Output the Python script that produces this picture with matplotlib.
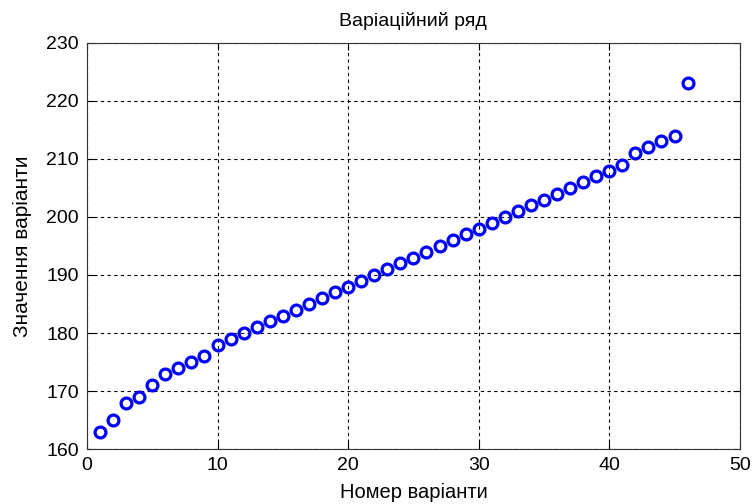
import matplotlib
matplotlib.use("Agg")
import matplotlib.pyplot as plt

# variation series (sorted sample values)
nums = list(range(1, 47))
values = [163, 165, 168, 169, 171, 173, 174, 175, 176, 178,
          179, 180, 181, 182, 183, 184, 185, 186, 187, 188,
          189, 190, 191, 192, 193, 194, 195, 196, 197, 198,
          199, 200, 201, 202, 203, 204, 205, 206, 207, 208,
          209, 211, 212, 213, 214, 223]

plt.rcParams['font.family'] = ['Liberation Sans', 'DejaVu Sans']

fig = plt.figure(figsize=(7.53, 5.04), dpi=100)
ax = fig.add_axes([0.1155, 0.109, 0.867, 0.806])

ax.plot(nums, values, 'o', color='blue', markerfacecolor='none',
        markersize=7.8, markeredgewidth=2.3)

ax.set_xlim(0, 50)
ax.set_ylim(160, 230)
ax.set_xticks(range(0, 51, 10))
ax.set_yticks(range(160, 231, 10))
ax.grid(True, color='black', linestyle=(0, (3, 3)), linewidth=0.8)
ax.tick_params(direction='in', top=True, right=True, labelsize=14, length=5, pad=6)
for s in ax.spines.values():
    s.set_color('#333333')

ax.set_title('Варіаційний ряд', fontsize=14, pad=12)
ax.set_xlabel('Номер варіанти', fontsize=14.5, labelpad=6)
ax.set_ylabel('Значення варіанти', fontsize=15, labelpad=10)

fig.savefig('out.png', dpi=100)
